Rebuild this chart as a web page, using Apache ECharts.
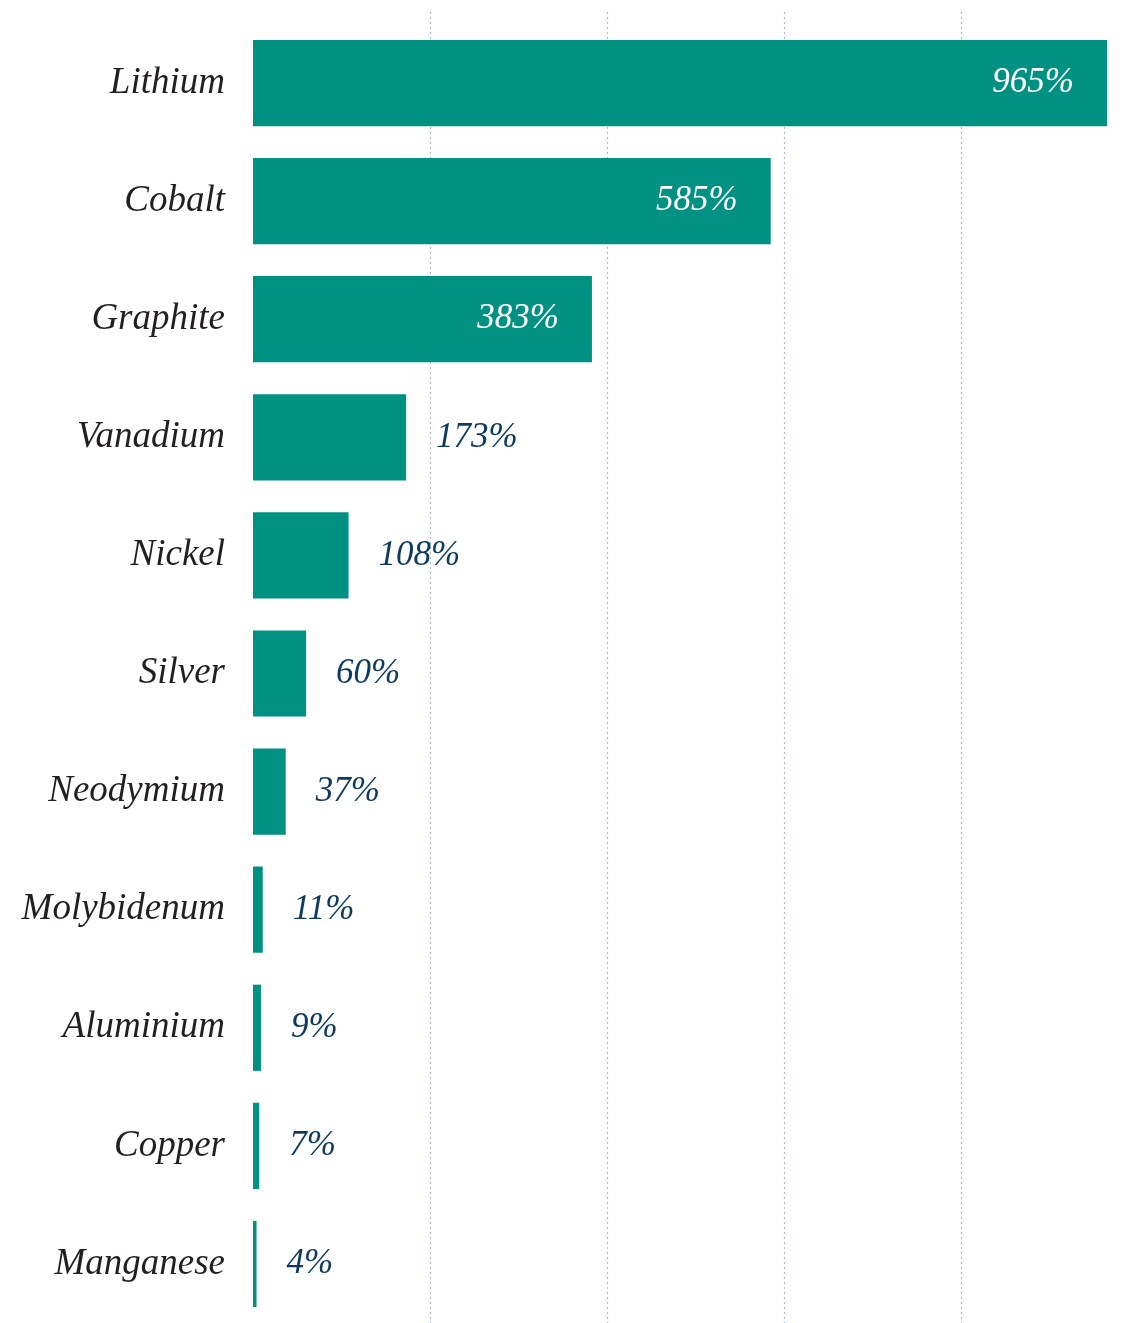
<!DOCTYPE html>
<html>
<head>
<meta charset="utf-8">
<script src="https://cdn.jsdelivr.net/npm/echarts@6/dist/echarts.min.js"></script>
<style>
html,body{margin:0;padding:0;background:#fff;}
#chart{width:1127px;height:1323px;}
</style>
</head>
<body>
<div id="chart"></div>
<script>
const categories = ["Lithium","Cobalt","Graphite","Vanadium","Nickel","Silver","Neodymium","Molybidenum","Aluminium","Copper","Manganese"];
const values = [965, 585, 383, 173, 108, 60, 37, 11, 9, 7, 4];
const insideThreshold = 300;

const FONT = "'Liberation Serif', 'DejaVu Serif', serif";
const chart = echarts.init(document.getElementById('chart'), null, {renderer:'canvas'});
chart.setOption({
  animation:false,
  backgroundColor:'#ffffff',
  grid:[
    {left:253, right:20, top:24, bottom:-2, containLabel:false},
    {left:253, right:20, top:12, bottom:0, containLabel:false}
  ],
  xAxis:[
    {
      type:'value', gridIndex:0, min:0, max:965, interval:200,
      axisLine:{show:false}, axisTick:{show:false}, axisLabel:{show:false},
      splitLine:{show:false}
    },
    {
      type:'value', gridIndex:1, min:0, max:965, interval:200,
      axisLine:{show:false}, axisTick:{show:false}, axisLabel:{show:false},
      splitLine:{show:true, showMinLine:false, showMaxLine:false, lineStyle:{color:'#a9b9d3', type:[2,3], width:1.2}}
    }
  ],
  yAxis:[
    {
      type:'category', gridIndex:0, inverse:true, data:categories,
      axisLine:{show:false}, axisTick:{show:false},
      axisLabel:{margin:28, color:'#231f20', fontFamily:FONT, fontStyle:'italic', fontSize:37}
    },
    {
      type:'value', gridIndex:1, min:0, max:1, show:false,
      splitLine:{show:false}
    }
  ],
  series:[{
    type:'bar',
    xAxisIndex:0, yAxisIndex:0,
    barCategoryGap:'27%',
    itemStyle:{color:'#009183'},
    z:3,
    data: values.map(v => ({
      value:v,
      label:{
        show:true,
        position: v > insideThreshold ? 'insideRight' : 'right',
        distance: v > insideThreshold ? 33 : 30,
        color: v > insideThreshold ? '#ffffff' : '#0e3a5e',
        fontFamily:FONT, fontStyle:'italic', fontSize:35,
        formatter:'{c}%'
      }
    }))
  }]
});
</script>
</body>
</html>
